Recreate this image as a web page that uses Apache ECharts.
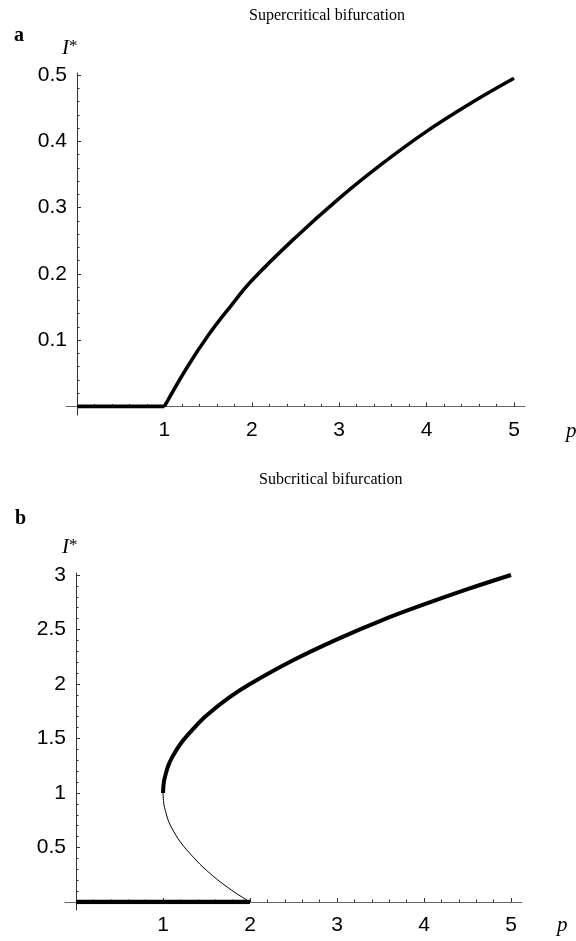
<!DOCTYPE html>
<html>
<head>
<meta charset="utf-8">
<script src="https://cdn.jsdelivr.net/npm/echarts@6/dist/echarts.min.js"></script>
<style>
  html, body { margin: 0; background: #fff; }
  #chart { width: 576px; height: 941px; }
</style>
</head>
<body>
<div id="chart"></div>
<script>
// panel a: supercritical bifurcation
const superZeroP = [0, 1];
const superZeroI = [0, 0];
const superP = [1, 1.25, 1.5, 1.75, 2, 2.5, 3, 3.5, 4, 4.5, 5];
const superI = [0, 0.057, 0.107, 0.15, 0.19, 0.255, 0.314, 0.367, 0.415, 0.457, 0.495];

// panel b: subcritical bifurcation
const subZeroP = [0, 2];
const subZeroI = [0, 0];
const subUpperP = [1, 1.01, 1.03, 1.06, 1.1, 1.2, 1.35, 1.5, 1.75, 2, 2.5, 3, 3.5, 4, 4.5, 5];
const subUpperI = [1, 1.1, 1.17, 1.25, 1.32, 1.45, 1.59, 1.71, 1.87, 2.0, 2.22, 2.41, 2.58, 2.73, 2.87, 3.0];
const subLowerP = [1, 1.01, 1.03, 1.06, 1.1, 1.2, 1.35, 1.5, 1.75, 2];
const subLowerI = [1, 0.9, 0.83, 0.75, 0.68, 0.55, 0.41, 0.29, 0.13, 0];

const pairs = (xs, ys) => xs.map((x, i) => [x, ys[i]]);

const numFont = "'Liberation Sans', Arial, sans-serif";
const serif = "'Liberation Serif', 'Times New Roman', serif";

// axis lines only (a bit longer than the data range, crossing at zero)
function lineAxis(min, max, color) {
	return {
		type: "value", min: min, max: max,
		axisLine: { show: true, onZero: true, lineStyle: { color: color, width: 1 } },
		axisTick: { show: false }, axisLabel: { show: false }, splitLine: { show: false }
	};
}
// ticks + labels on the data range
function tickAxis(min, max, interval, fmt, margin) {
	return {
		type: "value", min: min, max: max, interval: interval,
		axisLine: { show: false },
		axisTick: { show: true, inside: true, length: 4, lineStyle: { color: "#333" } },
		minorTick: { show: true, splitNumber: 5, length: 2.5, lineStyle: { color: "#333" } },
		splitLine: { show: false },
		axisLabel: { color: "#000", fontFamily: numFont, fontSize: 21, margin: margin, formatter: fmt }
	};
}
const xFmt = v => (v === 0 ? "" : String(v));

const starLabel = {
	i: { fontFamily: serif, fontSize: 21, fontStyle: "italic", fontWeight: "normal", color: "#000", verticalAlign: "bottom" },
	s: { fontFamily: serif, fontSize: 17, fontWeight: "normal", color: "#000", verticalAlign: "top" }
};

const chart = echarts.init(document.getElementById("chart"));
chart.setOption({
	animation: false,
	backgroundColor: "#fff",
	title: [
		{ text: "Supercritical bifurcation", left: 244, top: 3, textStyle: { fontFamily: serif, fontSize: 16, fontWeight: "normal", color: "#000" } },
		{ text: "a", left: 9, top: 21, textStyle: { fontFamily: serif, fontSize: 20, fontWeight: "bold", color: "#000" } },
		{ text: "{i|I}{s|*}", left: 57, top: 33, textStyle: { fontWeight: "normal", rich: starLabel } },
		{ text: "p", left: 561, top: 416, textStyle: { fontFamily: serif, fontSize: 21, fontStyle: "italic", fontWeight: "normal", color: "#000" } },

		{ text: "Subcritical bifurcation", left: 254, top: 467, textStyle: { fontFamily: serif, fontSize: 16, fontWeight: "normal", color: "#000" } },
		{ text: "b", left: 10, top: 504, textStyle: { fontFamily: serif, fontSize: 20, fontWeight: "bold", color: "#000" } },
		{ text: "{i|I}{s|*}", left: 57, top: 532, textStyle: { fontWeight: "normal", rich: starLabel } },
		{ text: "p", left: 552, top: 910, textStyle: { fontFamily: serif, fontSize: 21, fontStyle: "italic", fontWeight: "normal", color: "#000" } }
	],
	grid: [
		{ left: 66, right: 51, top: 73, bottom: 526 },
		{ left: 77, right: 62, top: 75, bottom: 534.5 },
		{ left: 65, right: 54, top: 573, bottom: 31 },
		{ left: 76, right: 65, top: 575, bottom: 39 }
	],
	xAxis: [
		Object.assign(lineAxis(-0.1259, 5.1259, "#666"), { gridIndex: 0 }),
		Object.assign(tickAxis(0, 5, 1, xFmt, 13), { gridIndex: 1 }),
		Object.assign(lineAxis(-0.1264, 5.1264, "#666"), { gridIndex: 2 }),
		Object.assign(tickAxis(0, 5, 1, xFmt, 13), { gridIndex: 3 })
	],
	yAxis: [
		Object.assign(lineAxis(-0.01284, 0.5038, "#333"), { gridIndex: 0 }),
		Object.assign(tickAxis(0, 0.5, 0.1, v => (v === 0 ? "" : v.toFixed(1)), 10), { gridIndex: 1 }),
		Object.assign(lineAxis(-0.0734, 3.018, "#333"), { gridIndex: 2 }),
		Object.assign(tickAxis(0, 3, 0.5, v => (v === 0 ? "" : String(v)), 10), { gridIndex: 3 })
	],
	series: [
		{ type: "line", xAxisIndex: 1, yAxisIndex: 1, data: pairs(superZeroP, superZeroI), showSymbol: false,
		  lineStyle: { color: "#000", width: 4 } },
		{ type: "line", xAxisIndex: 1, yAxisIndex: 1, data: pairs(superP, superI), showSymbol: false, smooth: 0.4,
		  lineStyle: { color: "#000", width: 3.5 } },
		{ type: "line", xAxisIndex: 3, yAxisIndex: 3, data: pairs(subZeroP, subZeroI), showSymbol: false,
		  lineStyle: { color: "#000", width: 4.5 } },
		{ type: "line", xAxisIndex: 3, yAxisIndex: 3, data: pairs(subUpperP, subUpperI), showSymbol: false, smooth: 0.4,
		  lineStyle: { color: "#000", width: 4 } },
		{ type: "line", xAxisIndex: 3, yAxisIndex: 3, data: pairs(subLowerP, subLowerI), showSymbol: false, smooth: 0.4,
		  lineStyle: { color: "#000", width: 1 } }
	]
});
</script>
</body>
</html>
